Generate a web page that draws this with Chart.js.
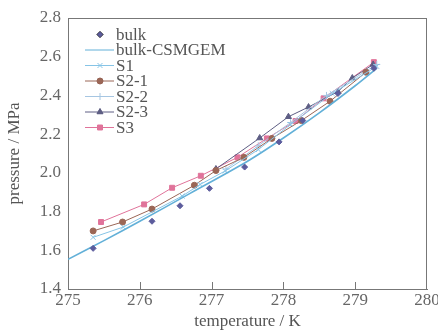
<!DOCTYPE html>
<html>
<head>
<meta charset="utf-8">
<script src="https://cdn.jsdelivr.net/npm/chart.js@4/dist/chart.umd.min.js"></script>
<style>
  html, body { margin: 0; padding: 0; background: #fff; }
  #wrap { width: 438px; height: 336px; }
</style>
</head>
<body>
<div id="wrap"><canvas id="chart" width="438" height="336"></canvas></div>
<script>
// values
const xTicks = [275, 276, 277, 278, 279, 280];
const yTicks = [1.4, 1.6, 1.8, 2.0, 2.2, 2.4, 2.6, 2.8];

const bulkT = [275.35, 276.17, 276.56, 276.97, 277.46, 277.94, 278.27, 278.76, 279.26];
const bulkP = [1.61, 1.75, 1.83, 1.92, 2.03, 2.16, 2.27, 2.41, 2.54];

const csmT = [275.0, 275.5, 276.0, 276.7, 277.5, 278.0, 278.5, 279.0, 279.3];
const csmP = [1.553, 1.65, 1.75, 1.894, 2.06, 2.18, 2.31, 2.45, 2.54];

const s1T = [275.35, 275.77, 276.59, 276.84, 277.19, 277.65, 278.1, 278.68, 279.3];
const s1P = [1.667, 1.72, 1.88, 1.94, 2.01, 2.12, 2.25, 2.41, 2.55];

const s21T = [275.35, 275.76, 276.17, 276.76, 277.06, 277.45, 277.84, 278.25, 278.65, 279.15];
const s21P = [1.70, 1.746, 1.813, 1.936, 2.012, 2.08, 2.178, 2.27, 2.37, 2.52];

const s22T = [277.2, 277.65, 278.1, 278.6, 279.3];
const s22P = [2.02, 2.14, 2.26, 2.40, 2.56];

const s23T = [277.06, 277.67, 278.07, 278.35, 278.76, 278.96, 279.25];
const s23P = [2.02, 2.18, 2.29, 2.34, 2.42, 2.49, 2.56];

const s3T = [275.46, 276.06, 276.45, 276.85, 277.36, 277.77, 278.17, 278.56, 279.26];
const s3P = [1.746, 1.837, 1.923, 1.985, 2.08, 2.178, 2.268, 2.385, 2.572];

function pts(xs, ys) {
  return xs.map((x, i) => ({ x: x, y: ys[i] }));
}

const serif = "'Liberation Serif', 'DejaVu Serif', serif";

// legend drawn inside the plot, top left
const insideLegend = {
  id: 'insideLegend',
  afterDraw(chart) {
    const ctx = chart.ctx;
    const area = chart.chartArea;
    let y = area.top + 16.5;
    const x0 = area.left + 17;
    ctx.save();
    ctx.font = "17px " + serif;
    ctx.textBaseline = 'middle';
    chart.data.datasets.forEach(ds => {
      if (ds.showLine !== false) {
        ctx.strokeStyle = ds.borderColor;
        ctx.lineWidth = 1;
        ctx.beginPath();
        ctx.moveTo(x0, y);
        ctx.lineTo(x0 + 29, y);
        ctx.stroke();
      }
      if (ds.pointRadius > 0) {
        Chart.helpers.drawPoint(ctx, {
          pointStyle: ds.pointStyle,
          radius: ds.pointRadius,
          borderWidth: 1
        }, x0 + 15, y);
        ctx.fillStyle = ds.pointBackgroundColor;
        ctx.strokeStyle = ds.pointBorderColor;
        ctx.lineWidth = 1;
        ctx.fill();
      }
      ctx.fillStyle = '#555';
      ctx.fillText(ds.label, x0 + 31, y + 1);
      y += 15.5;
    });
    ctx.restore();
  }
};

function series(label, xs, ys, color, style, r, line) {
  return {
    label: label,
    data: pts(xs, ys),
    showLine: line,
    borderColor: color,
    backgroundColor: color,
    pointBackgroundColor: color,
    pointBorderColor: color,
    pointStyle: style,
    pointRadius: r,
    borderWidth: 1
  };
}

const datasets = [
  series('bulk', bulkT, bulkP, '#5c5c9c', 'rectRot', 3, false),
  Object.assign(series('bulk-CSMGEM', csmT, csmP, '#62b0d8', 'circle', 0, true), { borderWidth: 1.6, tension: 0.3 }),
  series('S1', s1T, s1P, '#86c4e6', 'crossRot', 3.5, true),
  series('S2-1', s21T, s21P, '#9a6656', 'circle', 3, true),
  series('S2-2', s22T, s22P, '#a6c6e2', 'cross', 3.5, true),
  series('S2-3', s23T, s23P, '#5e5e84', 'triangle', 3.5, true),
  series('S3', s3T, s3P, '#e0739a', 'rect', 3.5, true)
];

new Chart(document.getElementById('chart'), {
  type: 'scatter',
  data: { datasets: datasets },
  options: {
    responsive: false,
    animation: false,
    layout: { padding: { top: 18, right: 11, left: 0, bottom: 0 } },
    plugins: { legend: { display: false }, tooltip: { enabled: false } },
    scales: {
      x: {
        min: 275, max: 280,
        afterBuildTicks: s => { s.ticks = xTicks.map(v => ({ value: v })); },
        afterFit: s => { s.height = 47; s.paddingLeft = 0; s.paddingRight = 0; },
        grid: { display: false, drawTicks: false },
        border: { color: '#777', width: 1 },
        ticks: { color: '#666', padding: 1, font: { family: serif, size: 17 }, maxRotation: 0 },
        title: { display: true, text: 'temperature / K', color: '#555', padding: { top: 2 }, font: { family: serif, size: 17 } }
      },
      y: {
        min: 1.4, max: 2.8,
        afterBuildTicks: s => { s.ticks = yTicks.map(v => ({ value: v })); },
        afterFit: s => { s.width = 68; s.paddingTop = 0; s.paddingBottom = 0; },
        grid: { display: false, tickLength: 5 },
        border: { color: '#777', width: 1 },
        ticks: { color: '#666', padding: 2, font: { family: serif, size: 17 }, callback: v => v.toFixed(1) },
        title: { display: true, text: 'pressure / MPa', color: '#555', padding: { bottom: 0 }, font: { family: serif, size: 17 } }
      }
    }
  },
  plugins: [insideLegend, {
    id: 'frame',
    afterDraw(chart) {
      const ctx = chart.ctx;
      const a = chart.chartArea;
      const xs = chart.scales.x;
      ctx.save();
      ctx.strokeStyle = '#777';
      ctx.lineWidth = 1;
      ctx.beginPath();
      ctx.moveTo(a.left, a.top + 0.5);
      ctx.lineTo(a.right, a.top + 0.5);
      ctx.moveTo(a.right - 0.5, a.top);
      ctx.lineTo(a.right - 0.5, a.bottom);
      // x ticks point inward
      xTicks.slice(1, -1).forEach(v => {
        const px = Math.round(xs.getPixelForValue(v)) + 0.5;
        ctx.moveTo(px, a.bottom);
        ctx.lineTo(px, a.bottom - 7);
      });
      ctx.stroke();
      ctx.restore();
    }
  }]
});
</script>
</body>
</html>
